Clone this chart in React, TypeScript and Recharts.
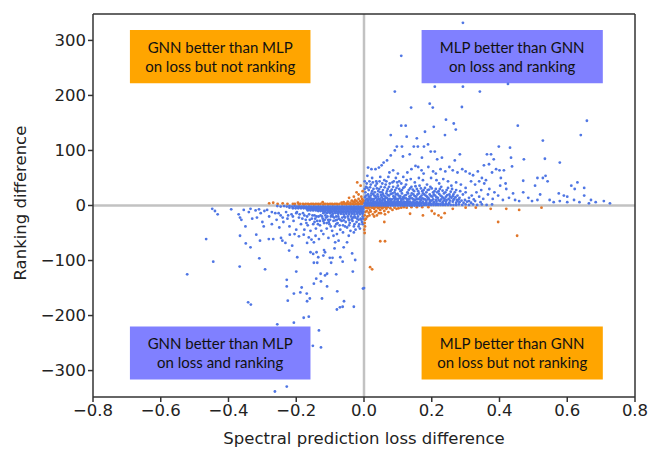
import { ScatterChart, Scatter, XAxis, YAxis, ReferenceArea, ReferenceLine } from 'recharts';

type Pt = [number, number];

const xTicks = [-0.8, -0.6, -0.4, -0.2, 0, 0.2, 0.4, 0.6, 0.8];
const yTicks = [-300, -200, -100, 0, 100, 200, 300];

// blue, x>0 y>0, the sparse part
const blueUpperSparse: Pt[] = [
  [.292,332],[.110,272],[.091,207],[.209,216],[.292,216],[.342,207],[.425,221],[.139,178],[.194,185],[.203,178],
  [.289,179],[.242,156],[.265,149],[.271,138],[.110,145],[.123,145],[.206,143],[.180,134],[.079,128],[.126,125],
  [.156,122],[.239,128],[.454,145],[.658,154],[.640,128],[.528,118],[.097,107],[.112,107],[.147,107],[.159,107],
  [.177,107],[.189,111],[.398,107],[.431,105],[.197,98],[.209,98],[.091,100],[.079,91],[.115,89],[.135,93],
  [.230,87],[.216,84],[.171,87],[.283,93],[.363,93],[.375,93],[.434,87],[.472,84],[.534,85],[.578,78],
  [.437,71],[.268,82],[.354,73],[.369,75],[.383,84],[.413,64],[.068,82],[.058,78],[.052,73],[.012,69],[.022,66],[.034,66],
  [.044,69],[.075,60],[.086,64],[.100,58],[.128,60],[.140,66],[.152,72],[.160,70],[.170,64],[.176,58],[.190,70],[.204,62],
  [.212,58],[.226,66],[.240,62],[.252,70],[.262,64],[.276,60],[.290,66],[.300,62],[.312,58],[.322,55],[.336,62],[.348,50],
  [.360,46],[.378,60],[.390,66],[.400,64],[.404,50],[.418,40],[.470,45],[.512,50],[.528,50],[.536,54],[.542,44],[.505,36],
  [.612,36],[.622,30],[.630,42],[.650,32],[.575,22],[.590,18],[.600,16],[.670,10],[.708,8],[.726,4],[.650,18],[.520,20],
  [.485,14],[.470,24],[.440,22],[.420,30],[.402,36],[.385,24],[.370,30],[.355,40],[.340,44],[.328,38],[.316,44],[.300,32],
  [.286,38],[.272,42],[.258,36],[.248,44],[.234,48],[.222,40],[.214,46],[.198,50],[.186,38],[.174,46],[.162,50],[.150,42],
  [.138,48],[.126,46],[.116,52],[.104,44],[.094,50],[.084,42],[.072,52],[.060,46],[.048,52],[.036,44],[.024,50],[.010,54],
  [.340,16],[.352,12],[.366,20],[.380,12],[.396,18],[.410,10],[.428,14],[.446,10],[.458,8],[.496,8],[.512,10],[.548,10],
  [.560,6],[.578,8],[.600,6],[.620,10],[.636,6],[.664,4],[.684,6],[.332,24],[.346,28],[.318,18],[.300,24],[.310,14],
];

// blue, x>0 y>0, the thick cloud above the axis
const blueUpperCloud: Pt[] = [
  [.006,34],[.014,28],[.020,38],[.028,30],[.034,36],[.042,26],[.050,34],[.056,28],[.064,38],[.070,30],[.078,26],[.086,34],
  [.092,28],[.100,36],[.108,26],[.116,32],[.124,38],[.132,28],[.140,34],[.148,26],[.156,30],[.164,36],[.172,26],[.180,32],
  [.188,28],[.196,34],[.204,24],[.212,30],[.220,26],[.228,34],[.236,22],[.244,28],[.252,20],[.260,30],[.268,24],[.276,18],
  [.284,26],[.292,20],[.004,24],[.012,20],[.022,22],[.030,18],[.040,20],[.048,24],[.058,18],[.066,22],[.074,18],[.084,22],
  [.094,20],[.102,18],[.112,22],[.120,18],[.130,22],[.138,18],[.146,20],[.154,16],[.162,22],[.170,18],[.178,20],[.186,16],
  [.194,20],[.202,16],[.210,18],[.218,14],[.226,18],[.234,14],[.242,16],[.250,12],[.258,14],[.266,12],[.274,10],[.282,14],
  [.003,15],[.010,12],[.018,14],[.026,11],[.035,14],[.044,12],[.052,15],[.060,11],[.068,14],[.076,12],[.088,13],[.096,11],
  [.106,14],[.114,11],[.124,13],[.132,11],[.142,13],[.150,10],[.160,12],[.168,10],[.176,12],[.184,9],[.192,11],[.200,9],
  [.004,9],[.012,8],[.020,9],[.028,8],[.038,9],[.046,8],[.054,9],[.062,8],[.072,9],[.080,8],[.090,8],[.100,8],
  [.110,8],[.118,7],[.128,8],[.136,7],[.146,7],[.156,7],[.166,6],[.174,7],[.184,6],[.194,6],[.206,6],[.214,7],
  [.224,8],[.232,6],[.242,7],[.252,5],[.262,7],[.272,5],[.282,6],[.294,5],[.304,7],[.316,5],[.328,8],[.344,6],
  [.002,44],[.008,40],[.016,44],[.026,42],[.038,40],[.046,44],[.054,40],[.066,44],[.076,40],[.088,44],[.098,42],[.110,40],
  [.002,30],[.010,32],[.018,33],[.024,26],[.032,24],[.038,31],[.045,30],[.053,24],[.061,33],[.068,26],[.074,34],[.082,29],
  [.090,24],[.096,32],[.104,30],[.112,28],[.120,34],[.128,24],[.136,31],[.144,29],[.152,35],[.160,26],[.168,31],[.176,28],
  [.184,24],[.192,29],[.200,31],[.208,26],[.216,24],[.224,30],[.232,27],[.240,24],[.248,32],[.256,25],[.264,20],[.272,28],
  [.006,18],[.014,16],[.020,18],[.027,21],[.034,17],[.042,16],[.050,19],[.056,21],[.063,16],[.070,19],[.079,21],[.087,17],
  [.092,15],[.099,21],[.107,17],[.116,15],[.124,19],[.134,16],[.141,22],[.150,17],[.158,20],[.166,15],[.174,22],[.182,18],
  [.190,14],[.198,17],[.206,20],[.214,15],[.222,21],[.230,16],[.238,12],[.246,19],[.254,16],[.262,17],[.270,15],[.280,11],
  [.007,11],[.015,11],[.022,12],[.030,12],[.040,11],[.048,11],[.056,12],[.064,13],[.072,11],[.082,11],[.092,12],[.101,12],
  [.110,12],[.119,13],[.128,11],[.137,13],[.146,11],[.155,12],[.164,11],[.172,13],[.180,11],[.188,12],[.196,9],[.204,11],
  [.212,10],[.220,10],[.228,11],[.236,9],[.244,10],[.254,9],[.264,10],[.276,8],[.288,9],[.298,10],[.310,8],[.324,11],
];

// blue, the solid band just above zero on the right
const blueBandRight: Pt[] = [
  [.002,4],[.009,4],[.016,4],[.023,4],[.030,4],[.037,4],[.044,4],[.051,4],[.058,4],[.065,4],[.072,4],[.079,4],
  [.086,4],[.093,4],[.100,4],[.107,4],[.114,4],[.121,4],[.128,4],[.135,4],[.142,4],[.149,4],[.156,4],[.163,4],
  [.170,4],[.177,4],[.184,3],[.191,3],[.198,3],[.205,3],[.212,3],[.219,3],[.226,3],[.234,3],[.242,3],[.250,3],
  [.002,0],[.009,0],[.016,0],[.023,0],[.030,0],[.037,0],[.044,0],[.051,0],[.058,0],[.065,0],[.072,0],[.079,0],
  [.086,0],[.093,0],[.100,0],[.107,0],[.114,0],[.121,0],[.128,0],[.135,0],[.142,0],[.149,0],[.156,0],[.163,0],
  [.170,0],[.177,1],[.184,1],[.191,1],[.198,1],[.205,1],[.212,1],[.219,1],[.226,1],[.233,1],[.240,1],[.248,1],
  [.256,1],[.264,1],[.272,1],[.280,2],[.290,1],[.300,2],[.310,1],[.322,2],[.334,1],[.348,2],[.362,1],[.378,2],
  [.005,6],[.012,6],[.019,6],[.026,6],[.033,6],[.040,6],[.047,6],[.054,6],[.061,6],[.068,6],[.075,6],[.082,6],
  [.089,6],[.096,6],[.103,6],[.110,6],[.117,6],[.124,6],[.131,6],[.138,5],[.145,5],[.152,5],[.159,5],[.166,5],
  [.005,2],[.012,2],[.019,2],[.026,2],[.033,2],[.040,2],[.047,2],[.054,2],[.061,2],[.068,2],[.075,2],[.082,2],
  [.089,2],[.096,2],[.103,2],[.110,2],[.117,2],[.124,2],[.131,2],[.138,2],[.145,2],[.152,2],[.159,2],[.166,2],
];

// blue, x<0 y<0, the solid band below zero on the left
const blueBandLeft: Pt[] = [
  [-.002,-2],[-.009,-2],[-.016,-2],[-.023,-2],[-.030,-2],[-.037,-2],[-.044,-2],[-.051,-2],[-.058,-2],[-.065,-2],[-.072,-2],[-.079,-2],
  [-.086,-2],[-.093,-2],[-.100,-2],[-.107,-2],[-.114,-2],[-.121,-2],[-.128,-2],[-.135,-2],[-.142,-2],[-.149,-2],[-.156,-2],[-.163,-2],
  [-.170,-2],[-.177,-2],[-.184,-2],[-.191,-2],[-.198,-2],[-.205,-1],[-.212,-2],[-.220,-1],[-.228,-2],[-.236,-1],[-.246,-2],[-.256,-1],
  [-.002,-6],[-.009,-6],[-.016,-6],[-.023,-6],[-.030,-6],[-.037,-6],[-.044,-6],[-.051,-6],[-.058,-6],[-.065,-6],[-.072,-6],[-.079,-6],
  [-.086,-6],[-.093,-6],[-.100,-6],[-.107,-6],[-.114,-6],[-.121,-6],[-.128,-6],[-.135,-6],[-.142,-6],[-.149,-6],[-.156,-5],[-.163,-5],
  [-.170,-5],[-.178,-5],[-.186,-5],[-.194,-5],[-.202,-5],[-.210,-5],[-.220,-4],
  [-.002,-11],[-.009,-11],[-.016,-11],[-.023,-11],[-.030,-11],[-.037,-11],[-.044,-11],[-.051,-11],[-.058,-11],[-.065,-11],[-.072,-11],[-.079,-11],
  [-.086,-11],[-.093,-11],[-.100,-10],[-.107,-10],[-.114,-10],[-.121,-10],[-.128,-10],[-.135,-10],[-.142,-9],[-.150,-9],[-.158,-9],[-.166,-9],
  [-.004,-15],[-.012,-16],[-.020,-15],[-.028,-16],[-.036,-15],[-.044,-16],[-.052,-15],[-.060,-16],[-.068,-15],[-.076,-15],[-.084,-14],[-.092,-15],[-.100,-14],[-.110,-14],[-.120,-14],
  [-.005,-4],[-.012,-4],[-.019,-4],[-.026,-4],[-.033,-4],[-.040,-4],[-.047,-4],[-.054,-4],[-.061,-4],[-.068,-4],[-.075,-4],[-.082,-4],
  [-.089,-4],[-.096,-4],[-.103,-4],[-.110,-4],[-.117,-4],[-.124,-4],[-.131,-4],[-.138,-4],[-.145,-4],[-.152,-4],[-.159,-4],[-.166,-4],[-.173,-3],[-.180,-3],[-.188,-3],
  [-.005,-8],[-.012,-8],[-.019,-8],[-.026,-8],[-.033,-8],[-.040,-8],[-.047,-8],[-.054,-8],[-.061,-8],[-.068,-8],[-.075,-8],[-.082,-8],
  [-.089,-8],[-.096,-8],[-.103,-8],[-.110,-8],[-.117,-8],[-.124,-8],[-.131,-8],[-.138,-8],[-.145,-7],[-.152,-7],[-.160,-7],[-.168,-7],
  [-.006,-13],[-.014,-13],[-.021,-13],[-.029,-13],[-.037,-13],[-.045,-13],[-.053,-13],[-.061,-13],[-.069,-13],[-.077,-12],[-.085,-12],[-.094,-12],[-.104,-12],[-.116,-12],
];

// blue, x<0 y<0, the sparse part
const blueLowerSparse: Pt[] = [
  [-.263,-338],[-.228,-329],[-.127,-258],[-.151,-255],[-.133,-227],[-.207,-213],[-.256,-216],[-.178,-204],[-.163,-202],[-.342,-176],
  [-.334,-180],[-.080,-189],[-.071,-185],[-.063,-184],[-.030,-184],[-.059,-174],[-.124,-169],[-.168,-174],[-.160,-169],[-.225,-173],
  [-.207,-160],[-.188,-158],[-.169,-160],[-.184,-149],[-.228,-147],[-.228,-135],[-.148,-142],[-.127,-138],[-.141,-133],[-.109,-147],
  [-.079,-156],[-.003,-151],[.000,-150],[-.033,-120],[-.082,-125],[-.128,-124],[-.115,-127],[-.109,-124],[-.200,-120],[-.292,-116],
  [-.367,-111],[-.445,-102],[-.522,-125],[-.466,-61],[-.366,-55],[-.335,-76],[-.349,-69],[-.318,-53],[-.309,-96],[-.307,-64],
  [-.281,-61],[-.268,-61],[-.245,-59],[-.241,-64],[-.232,-68],[-.221,-82],[-.197,-94],[-.212,-73],[-.219,-53],[-.205,-52],
  [-.192,-56],[-.178,-53],[-.163,-58],[-.155,-62],[-.168,-68],[-.143,-55],[-.133,-61],[-.148,-67],[-.158,-85],[-.150,-88],
  [-.140,-85],[-.118,-81],[-.115,-85],[-.135,-94],[-.148,-104],[-.138,-104],[-.120,-91],[-.101,-95],[-.093,-95],[-.097,-104],
  [-.070,-94],[-.063,-102],[-.026,-99],[-.035,-87],[-.060,-76],[-.087,-78],[-.085,-67],[-.075,-64],[-.050,-67],[-.045,-55],
  [-.030,-49],[-.090,-55],[-.120,-52],[-.105,-59],[-.080,-52],[-.062,-49],[-.448,-6],[-.440,-10],[-.432,-16],[-.392,-7],
  [-.370,-16],[-.366,-22],[-.362,-26],[-.350,-38],[-.340,-12],[-.330,-24],[-.320,-9],[-.316,-22],[-.305,-14],[-.300,-30],
  [-.296,-38],[-.286,-8],[-.280,-20],[-.272,-34],[-.262,-14],[-.258,-26],[-.250,-40],[-.246,-18],[-.238,-30],[-.230,-12],
  [-.226,-24],[-.220,-38],[-.214,-16],[-.208,-28],[-.200,-44],[-.198,-12],[-.192,-22],[-.186,-34],[-.180,-14],[-.176,-44],
  [-.172,-26],[-.166,-36],[-.162,-16],[-.158,-46],[-.154,-24],[-.150,-34],[-.146,-18],[-.142,-42],[-.138,-28],[-.134,-20],
  [-.130,-36],[-.126,-46],[-.122,-24],[-.118,-32],[-.114,-18],[-.110,-42],[-.106,-26],[-.102,-34],[-.098,-20],[-.094,-46],
  [-.090,-28],[-.086,-38],[-.082,-20],[-.078,-32],[-.074,-24],[-.070,-44],[-.066,-28],[-.062,-36],[-.058,-20],[-.054,-30],
  [-.050,-40],[-.046,-24],[-.042,-32],[-.038,-20],[-.034,-28],[-.030,-38],[-.026,-22],[-.022,-30],[-.018,-20],[-.014,-34],
  [-.010,-24],[-.006,-30],[-.012,-42],[-.025,-44],[-.040,-46],[-.200,-14],[-.168,-20],[-.144,-24],[-.128,-18],[-.112,-22],
  [-.096,-18],[-.080,-26],[-.064,-22],[-.048,-20],[-.032,-22],[-.016,-26],[-.004,-20],[-.120,-28],[-.104,-30],[-.088,-22],
  [-.190,-16],[-.176,-18],[-.160,-26],[-.152,-18],[-.140,-20],[-.136,-34],[-.124,-20],[-.116,-26],[-.108,-20],[-.100,-26],
  [-.092,-20],[-.084,-27],[-.076,-20],[-.070,-26],[-.060,-27],[-.056,-22],[-.044,-27],[-.036,-25],[-.028,-20],[-.020,-24],
  [-.008,-26],[-.002,-24],[-.110,-32],[-.098,-38],[-.082,-34],[-.072,-36],[-.056,-38],[-.044,-36],[-.028,-34],[-.016,-38],
  [-.004,-34],[-.130,-28],[-.146,-30],[-.170,-32],[-.182,-24],[-.210,-20],[-.224,-18],[-.240,-22],[-.252,-14],[-.272,-12],
  [-.294,-10],[-.310,-7],[-.335,-6],[-.355,-8],
];

// orange, x<0 y>0
const orangeUpper: Pt[] = [
  [-.020,42],[-.010,36],[-.004,26],[-.022,24],[-.016,20],[-.030,16],[-.044,14],[-.008,16],[-.016,12],[-.026,10],[-.036,9],[-.004,10],
  [-.280,4],[-.268,5],[-.255,3],[-.240,4],[-.226,3],[-.210,3],[-.195,5],[-.180,3],[-.165,3],[-.150,3],[-.135,3],[-.122,6],
  [-.108,3],[-.094,3],[-.080,3],[-.066,5],[-.052,4],[-.040,5],[-.028,6],[-.018,5],[-.008,6],[-.002,5],[-.012,3],[-.024,3],[-.034,3],
  [-.046,3],[-.058,3],[-.072,3],[-.086,3],[-.100,3],[-.115,3],[-.128,3],[-.142,3],[-.156,3],[-.172,3],[-.188,3],[-.204,3],
  [-.006,3],[-.018,2],[-.030,2],[-.040,2],[-.052,2],[-.064,2],[-.078,2],[-.092,2],[-.106,2],[-.120,2],[-.134,2],[-.148,2],[-.162,2],[-.178,2],[-.192,2],
  [-.012,8],[-.022,8],[-.032,7],[-.048,7],[-.060,6],[-.002,8],[-.006,12],
];

// orange, x>0 y<0
const orangeLower: Pt[] = [
  [.452,-55],[.396,-30],[.060,-30],[.048,-65],[.062,-65],[.018,-112],[.024,-116],[.002,-50],[.001,-44],[.003,-38],[.136,-15],[.174,-18],
  [.200,-10],[.208,-15],[.220,-18],[.228,-22],[.238,-14],[.262,-6],[.300,-4],[.330,-4],[.374,-6],[.420,-6],[.458,-8],[.524,-4],
  [.006,-4],[.012,-5],[.018,-8],[.024,-4],[.030,-6],[.036,-10],[.042,-5],[.048,-8],[.054,-5],[.060,-10],[.066,-6],[.072,-12],
  [.078,-5],[.084,-8],[.090,-4],[.096,-6],[.102,-5],[.110,-4],[.118,-3],[.126,-4],[.140,-3],[.156,-3],[.172,-3],[.190,-3],
  [.008,-10],[.014,-13],[.020,-11],[.026,-16],[.032,-12],[.038,-18],[.044,-14],[.004,-12],[.002,-18],[.010,-20],[.016,-18],[.030,-20],
  [.050,-14],[.062,-16],[.003,-26],[.002,-32],[.006,-24],[.004,-3],[.010,-3],[.016,-3],[.022,-3],[.028,-3],[.034,-3],[.040,-3],[.046,-3],[.052,-3],[.058,-3],[.064,-3],[.070,-3],
];

const toRows = (pts: Pt[]) => pts.map(([x, y]) => ({ x, y }));
const formatMinus = (v: number, digits: number) => v.toFixed(digits).replace('-', '\u2212');

const dot = (color: string) => (props: any) => <circle cx={props.cx} cy={props.cy} r={1.4} fill={color} />;

const boxLabel = (lines: string[]) => (props: any) => {
  const { x, y, width, height } = props.viewBox;
  return (
    <text x={x + width / 2} y={y + height / 2} textAnchor="middle" fontFamily="Lato" fontSize={15} fill="#111">
      <tspan x={x + width / 2} dy={-4}>{lines[0]}</tspan>
      <tspan x={x + width / 2} dy={19}>{lines[1]}</tspan>
    </text>
  );
};

const BLUE = '#4f76e4';
const ORANGE = '#e0762a';
const blueDot = dot(BLUE);
const orangeDot = dot(ORANGE);
const FRAME = '#333';
const FONT = { fontFamily: 'DejaVu Sans', fontSize: 16.5, fill: '#222' };

export default function App() {
  return (
    <div style={{ position: 'absolute', left: 0, top: 0, background: '#fff' }}>
      <ScatterChart width={648} height={449} margin={{ top: 14, right: 13, bottom: 0, left: 33 }}>
        <XAxis type="number" dataKey="x" domain={[-0.8, 0.8]} ticks={xTicks} height={52} stroke={FRAME} strokeWidth={1.5}
          tickFormatter={(v: number) => (v === 0 ? '0.0' : formatMinus(v, 1))}
          tick={FONT} tickSize={5}
          label={{ value: 'Spectral prediction loss difference', position: 'insideBottom', offset: 5, ...FONT }} />
        <YAxis type="number" dataKey="y" domain={[-348, 348]} ticks={yTicks} width={60} stroke={FRAME} strokeWidth={1.5}
          tickFormatter={(v: number) => formatMinus(v, 0)}
          tick={FONT} tickSize={5}
          label={{ value: 'Ranking difference', angle: -90, position: 'insideLeft', offset: -13, dy: 75, ...FONT }} />
        <Scatter data={toRows(blueUpperSparse)} shape={blueDot} isAnimationActive={false} />
        <Scatter data={toRows(blueUpperCloud)} shape={blueDot} isAnimationActive={false} />
        <Scatter data={toRows(blueLowerSparse)} shape={blueDot} isAnimationActive={false} />
        <Scatter data={toRows(orangeUpper)} shape={orangeDot} isAnimationActive={false} />
        <Scatter data={toRows(orangeLower)} shape={orangeDot} isAnimationActive={false} />
        <Scatter data={toRows(blueBandLeft)} shape={blueDot} isAnimationActive={false} />
        <Scatter data={toRows(blueBandRight)} shape={blueDot} isAnimationActive={false} />
        <ReferenceLine y={0} stroke="#c2c2c2" strokeWidth={2.5} />
        <ReferenceLine x={0} stroke="#c2c2c2" strokeWidth={2.5} />
        <ReferenceLine y={348} stroke={FRAME} strokeWidth={1.5} />
        <ReferenceLine x={0.8} stroke={FRAME} strokeWidth={1.5} />
        <ReferenceArea x1={-0.691} x2={-0.158} y1={222} y2={319} fill="#ffa500" fillOpacity={1} stroke="none" label={boxLabel(['GNN better than MLP', 'on loss but not ranking'])} />
        <ReferenceArea x1={0.170} x2={0.705} y1={222} y2={319} fill="#8080ff" fillOpacity={1} stroke="none" label={boxLabel(['MLP better than GNN', 'on loss and ranking'])} />
        <ReferenceArea x1={-0.691} x2={-0.158} y1={-316} y2={-220} fill="#8080ff" fillOpacity={1} stroke="none" label={boxLabel(['GNN better than MLP', 'on loss and ranking'])} />
        <ReferenceArea x1={0.170} x2={0.705} y1={-316} y2={-220} fill="#ffa500" fillOpacity={1} stroke="none" label={boxLabel(['MLP  better than GNN', 'on loss but not ranking'])} />
      </ScatterChart>
    </div>
  );
}
